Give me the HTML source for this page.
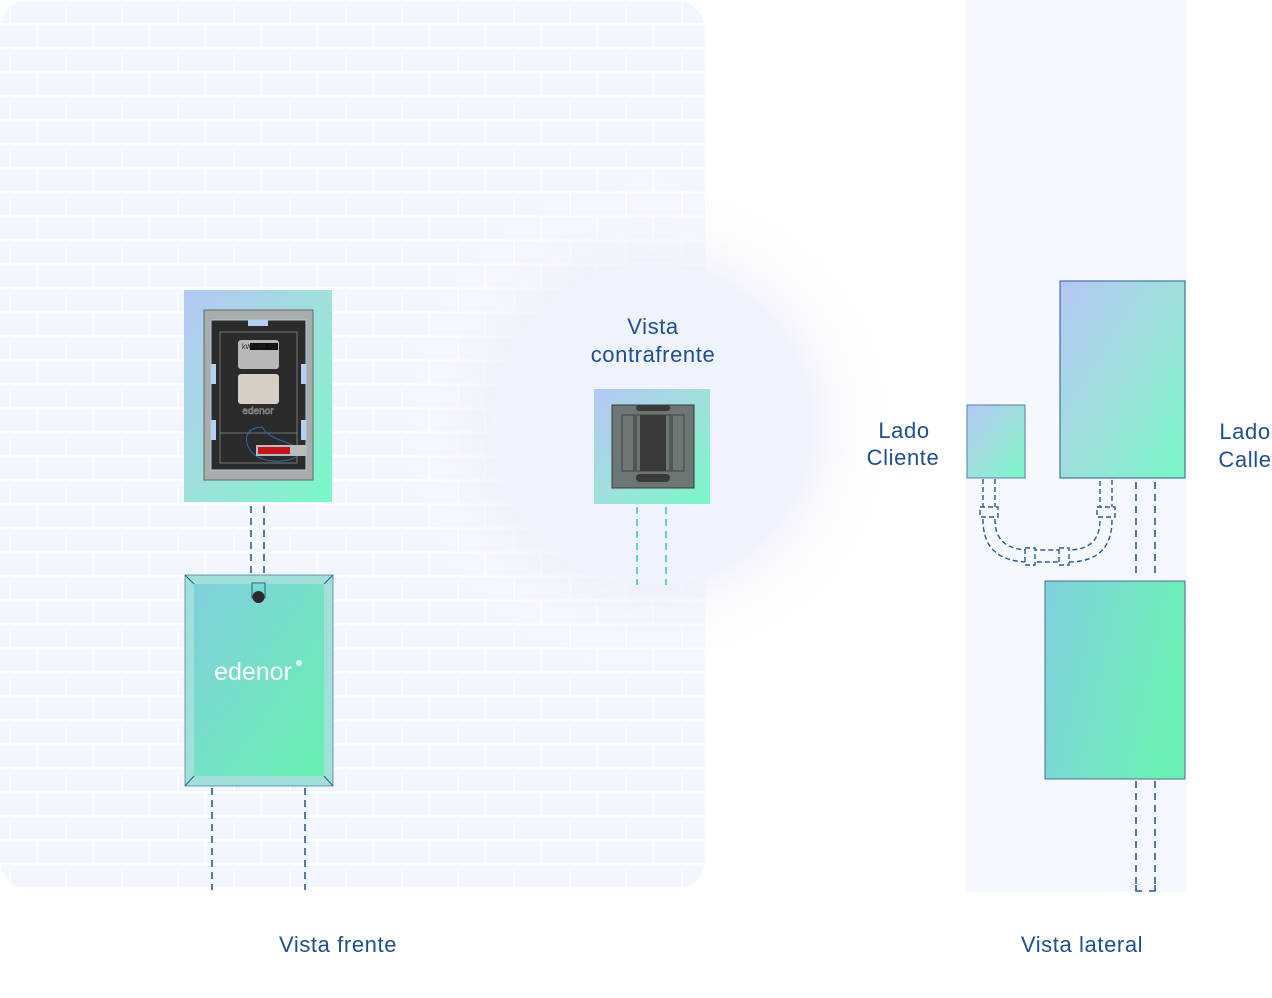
<!DOCTYPE html>
<html><head><meta charset="utf-8"><style>
html,body{margin:0;padding:0;background:#fff;width:1272px;height:998px;overflow:hidden}
svg{display:block}
text{font-family:"Liberation Sans",sans-serif;fill:#1f4f8a;letter-spacing:0.6px}
</style></head><body>
<svg width="1272" height="998" viewBox="0 0 1272 998" xmlns="http://www.w3.org/2000/svg">
<defs>
<pattern id="brick" x="0" y="0" width="112" height="48" patternUnits="userSpaceOnUse">
<rect width="112" height="48" fill="#fbfcff"/>
<rect x="11" y="2" width="54" height="21" fill="#f2f6fe"/>
<rect x="67" y="2" width="54" height="21" fill="#f2f6fe"/>
<rect x="-45" y="2" width="54" height="21" fill="#f2f6fe"/>
<rect x="-18" y="26" width="54" height="21" fill="#f2f6fe"/>
<rect x="38" y="26" width="54" height="21" fill="#f2f6fe"/>
<rect x="94" y="26" width="54" height="21" fill="#f2f6fe"/>
</pattern>
<linearGradient id="g1" x1="0" y1="0" x2="1" y2="1">
<stop offset="0" stop-color="#b3c7f5"/><stop offset="0.5" stop-color="#9fe0dc"/><stop offset="1" stop-color="#78f8c8"/>
</linearGradient>
<linearGradient id="g2" x1="0" y1="0" x2="1" y2="1">
<stop offset="0" stop-color="#80d0dc"/><stop offset="1" stop-color="#68f0b0"/>
</linearGradient>
<linearGradient id="g3" x1="0" y1="0" x2="1" y2="0.3">
<stop offset="0" stop-color="#80d0dc"/><stop offset="1" stop-color="#6cf0b6"/>
</linearGradient>
<radialGradient id="glow" cx="0.5" cy="0.5" r="0.5">
<stop offset="0.6" stop-color="#eceef9" stop-opacity="0.8"/><stop offset="1" stop-color="#ffffff" stop-opacity="0"/>
</radialGradient>
</defs>

<rect x="0" y="0" width="705" height="890" rx="30" fill="url(#brick)"/>
<rect x="966" y="0" width="220" height="892" fill="#f5f8fe"/>

<circle cx="652" cy="425" r="250" fill="url(#glow)"/>
<circle cx="652" cy="425" r="160" fill="#eef3fe"/>
<text x="653" y="334" font-size="22" text-anchor="middle">Vista</text>
<text x="653" y="362" font-size="22" text-anchor="middle">contrafrente</text>
<rect x="594" y="389" width="116" height="115" fill="url(#g1)"/>
<rect x="612" y="405" width="82" height="83" fill="#6c7674" stroke="#3a3a3a" stroke-width="1"/>
<rect x="636" y="405" width="34" height="6" rx="3" fill="#3a3a3a"/>
<rect x="636" y="474" width="34" height="8" rx="4" fill="#3a3a3a"/>
<rect x="622" y="415" width="62" height="56" fill="none" stroke="#444" stroke-width="1"/>
<rect x="633" y="415" width="4" height="56" fill="#555"/>
<rect x="640" y="415" width="26" height="56" fill="#3a3a3a"/>
<rect x="669" y="415" width="4" height="56" fill="#555"/>
<line x1="637" y1="507" x2="637" y2="585" stroke="#5ed8c0" stroke-width="2" stroke-dasharray="7,5"/>
<line x1="666" y1="507" x2="666" y2="585" stroke="#5ed8c0" stroke-width="2" stroke-dasharray="7,5"/>

<rect x="184" y="290" width="148" height="212" fill="url(#g1)"/>
<rect x="204" y="310" width="109" height="170" fill="#a7adab" stroke="#666" stroke-width="1"/>
<rect x="211" y="320" width="95" height="150" fill="#2b2b2b" stroke="#b5c8e8" stroke-width="1"/>
<rect x="248" y="320" width="20" height="6" fill="#b5d0f0"/>
<rect x="211" y="364" width="5" height="20" fill="#b5d0f0"/>
<rect x="301" y="364" width="5" height="20" fill="#b5d0f0"/>
<rect x="211" y="420" width="5" height="20" fill="#b5d0f0"/>
<rect x="301" y="420" width="5" height="20" fill="#b5d0f0"/>
<rect x="220" y="332" width="77" height="131" fill="none" stroke="#888" stroke-width="0.8"/>
<line x1="220" y1="433" x2="297" y2="433" stroke="#888" stroke-width="0.8"/>
<rect x="238" y="340" width="41" height="29" rx="3" fill="#b8b8b8"/>
<rect x="250" y="343" width="28" height="7" fill="#111"/>
<text x="242" y="349" font-size="7" style="fill:#222;letter-spacing:0">kWh 08 42</text>
<rect x="238" y="374" width="41" height="30" rx="3" fill="#d8cfc4"/>
<text x="258" y="414" font-size="10" text-anchor="middle" style="fill:#2b2b2b;stroke:#999;stroke-width:0.6;letter-spacing:0">edenor</text>
<path d="M262,427 C240,428 245,448 255,455 C270,467 310,460 296,447 C285,440 270,440 262,427" fill="none" stroke="#2b6ab8" stroke-width="1"/>
<rect x="256" y="445" width="50" height="11" fill="#bbbbbb"/>
<rect x="258" y="447" width="32" height="7" fill="#c8141c"/>

<line x1="251" y1="506" x2="251" y2="576" stroke="#2a5a92" stroke-width="1.6" stroke-dasharray="7,5"/>
<line x1="264" y1="506" x2="264" y2="576" stroke="#2a5a92" stroke-width="1.6" stroke-dasharray="7,5"/>

<rect x="185" y="575" width="148" height="211" fill="#a0e0d8" stroke="#2a5a92" stroke-width="0.6"/>
<rect x="194" y="584" width="130" height="192" fill="url(#g2)"/>
<line x1="185" y1="575" x2="194" y2="584" stroke="#2a5a92" stroke-width="1"/>
<line x1="333" y1="575" x2="324" y2="584" stroke="#2a5a92" stroke-width="1"/>
<line x1="185" y1="786" x2="194" y2="776" stroke="#2a5a92" stroke-width="1"/>
<line x1="333" y1="786" x2="324" y2="776" stroke="#2a5a92" stroke-width="1"/>
<rect x="252" y="583" width="13" height="15" fill="none" stroke="#2a5a92" stroke-width="1"/>
<circle cx="258.5" cy="597" r="6" fill="#2b2b2b"/>
<text x="253" y="680" font-size="25" text-anchor="middle" style="fill:#fff;letter-spacing:0">edenor</text>
<circle cx="299" cy="663" r="3" fill="#fff" opacity="0.8"/>

<line x1="212" y1="788" x2="212" y2="890" stroke="#2a5a92" stroke-width="1.6" stroke-dasharray="7,5"/>
<line x1="305" y1="788" x2="305" y2="890" stroke="#2a5a92" stroke-width="1.6" stroke-dasharray="7,5"/>

<rect x="967" y="405" width="58" height="73" fill="url(#g1)" stroke="#5a7aa8" stroke-width="1"/>
<rect x="1060" y="281" width="125" height="197" fill="url(#g1)" stroke="#2a5a92" stroke-width="1"/>
<rect x="1045" y="581" width="140" height="198" fill="url(#g3)" stroke="#4a6a98" stroke-width="1"/>
<g fill="none" stroke="#2a5a92" stroke-width="1.4" stroke-dasharray="5,3">
<path d="M983,479 V520 Q983,562 1030,562 H1068 Q1112,562 1112,520 V479"/>
<path d="M995,479 V520 Q995,550 1030,550 H1068 Q1100,550 1100,520 V479"/>
<rect x="980" y="507" width="18" height="10" fill="#f5f8fe"/>
<rect x="1097" y="507" width="18" height="10" fill="#f5f8fe"/>
<rect x="1025" y="548" width="10" height="17" fill="#f5f8fe"/>
<rect x="1059" y="548" width="10" height="17" fill="#f5f8fe"/>
</g>
<g stroke="#2a5a92" stroke-width="1.6" stroke-dasharray="7,5">
<line x1="1136" y1="482" x2="1136" y2="578"/>
<line x1="1155" y1="482" x2="1155" y2="578"/>
<line x1="1136" y1="781" x2="1136" y2="890"/>
<line x1="1155" y1="781" x2="1155" y2="890"/>
</g>
<path d="M1136,885 V891 H1142 M1149,891 H1155 V885" fill="none" stroke="#2a5a92" stroke-width="1.6"/>

<text x="904" y="438" font-size="22" text-anchor="middle">Lado</text>
<text x="903" y="465" font-size="22" text-anchor="middle">Cliente</text>
<text x="1245" y="439" font-size="22" text-anchor="middle">Lado</text>
<text x="1245" y="467" font-size="22" text-anchor="middle">Calle</text>
<text x="338" y="952" font-size="22" text-anchor="middle">Vista frente</text>
<text x="1082" y="952" font-size="22" text-anchor="middle">Vista lateral</text>
</svg>
</body></html>
